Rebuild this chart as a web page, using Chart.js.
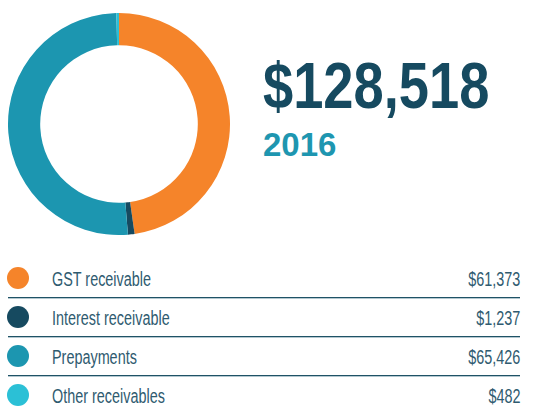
<!DOCTYPE html>
<html>
<head>
<meta charset="utf-8">
<script src="https://cdn.jsdelivr.net/npm/chart.js"></script>
<style>
  body { margin: 0; background: #fff; width: 535px; height: 407px; position: relative; overflow: hidden; }
  #donut { position: absolute; left: 8px; top: 13px; width: 222px; height: 222px; }
  .total { position: absolute; left: 263px; top: 53px; font: bold 65px/65px "Liberation Sans", Arial, sans-serif; color: #164a60; white-space: nowrap; transform: scaleX(0.835); transform-origin: left center; }
  .year { position: absolute; left: 263px; top: 128px; font: bold 33px/33px "Liberation Sans", Arial, sans-serif; color: #1e96b0; }
  .row { position: absolute; left: 0; width: 535px; height: 24px; }
  .dot { position: absolute; left: 7px; top: 0; width: 22px; height: 22px; border-radius: 50%; }
  .label, .value { position: absolute; top: 0; font: 20px/24px "Liberation Sans", Arial, sans-serif; color: #2f5b70; white-space: nowrap; }
  .label { left: 52px; transform: scaleX(0.72); transform-origin: left center; }
  .value { right: 15px; transform: scaleX(0.72); transform-origin: right center; }
  .rule { position: absolute; left: 8px; width: 512px; height: 1px; background: #1f5266; box-shadow: 0 1px 0 #b4c8d0; }
</style>
</head>
<body>
<div id="donut"><canvas id="chart" width="222" height="222"></canvas></div>
<div class="total" id="total"></div>
<div class="year" id="year"></div>
<div id="legend"></div>
<script>
const categories = ['GST receivable', 'Interest receivable', 'Prepayments', 'Other receivables'];
const amounts = [61373, 1237, 65426, 482];
const colors = ['#f5842a', '#164a60', '#1c96b0', '#2bc0d6'];
const year = '2016';

const fmt = v => '$' + v.toLocaleString('en-US');
const total = amounts.reduce((a, b) => a + b, 0);
document.getElementById('total').textContent = fmt(total);
document.getElementById('year').textContent = year;

new Chart(document.getElementById('chart'), {
  type: 'doughnut',
  data: {
    labels: categories,
    datasets: [{
      data: amounts,
      backgroundColor: colors,
      borderWidth: 0
    }]
  },
  options: {
    responsive: false,
    animation: false,
    cutout: '71%',
    layout: { padding: 0 },
    plugins: { legend: { display: false }, tooltip: { enabled: false } }
  }
});

// legend rows with rules in between
const legend = document.getElementById('legend');
categories.forEach((name, i) => {
  const cy = 278 + 39 * i;
  const row = document.createElement('div');
  row.className = 'row';
  row.style.top = (cy - 11) + 'px';
  row.innerHTML = '<div class="dot" style="background:' + colors[i] + '"></div>' +
    '<span class="label">' + name + '</span>' +
    '<span class="value">' + fmt(amounts[i]) + '</span>';
  legend.appendChild(row);
  if (i < categories.length - 1) {
    const rule = document.createElement('div');
    rule.className = 'rule';
    rule.style.top = (cy + 19) + 'px';
    legend.appendChild(rule);
  }
});
</script>
</body>
</html>
